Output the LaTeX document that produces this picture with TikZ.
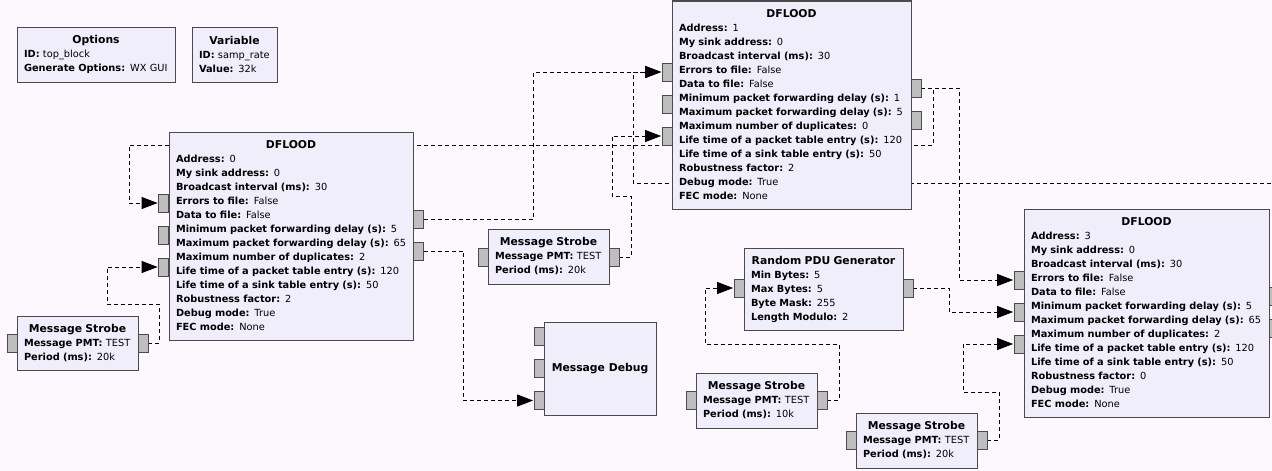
\documentclass[tikz,border=0pt]{standalone}
\usepackage{fontspec}
\setmainfont{DejaVu Sans}
\usetikzlibrary{arrows.meta}
\pgfdeclarelayer{bg}
\pgfsetlayers{bg,main}
\definecolor{canvas}{HTML}{FDF8FD}
\definecolor{blockfill}{HTML}{F1EEFC}
\definecolor{portfill}{HTML}{BEBEBE}
\definecolor{edgecol}{HTML}{4A4A4A}
\newcommand\ttl[1]{\makebox[\linewidth][c]{\fontsize{10.8}{14}\selectfont\bfseries #1}}
\newcommand\prm[2]{\mbox{\textbf{#1} #2}}
\tikzset{
  blk/.style={draw=edgecol, fill=blockfill, line width=1pt, rectangle, inner xsep=7pt, inner ysep=0pt,
    font=\fontsize{9.8}{14}\selectfont, align=left, anchor=center},
  port/.style={draw=edgecol, fill=portfill, line width=0.8pt, minimum width=10pt, minimum height=18pt, inner sep=0pt},
  conn/.style={draw=black, line width=0.9pt, dash pattern=on 4pt off 3pt},
  arr/.style={conn, -{Triangle[length=16pt,width=12pt]}, shorten >=0.5pt},
}
\begin{document}
\begin{tikzpicture}[x=1pt,y=-1pt]
\useasboundingbox (0,0) rectangle (1272,471);

% ---------- blocks ----------
\node[blk, minimum width=158pt, minimum height=55pt, text width=144pt] (opt) at (96,54.5)
  {\ttl{Options}\\ \prm{ID:}{top\_block}\\ \prm{Generate Options:}{WX GUI}};
\node[blk, minimum width=85pt, minimum height=55pt, text width=71pt] (var) at (234.5,54.5)
  {\ttl{Variable}\\ \prm{ID:}{samp\_rate}\\ \prm{Value:}{32k}};

\node[blk, minimum width=244pt, minimum height=208pt, text width=230pt] (d0) at (291,236)
  {\ttl{DFLOOD}\\ \prm{Address:}{0}\\ \prm{My sink address:}{0}\\ \prm{Broadcast interval (ms):}{30}\\
   \prm{Errors to file:}{False}\\ \prm{Data to file:}{False}\\ \prm{Minimum packet forwarding delay (s):}{5}\\
   \prm{Maximum packet forwarding delay (s):}{65}\\ \prm{Maximum number of duplicates:}{2}\\
   \prm{Life time of a packet table entry (s):}{120}\\ \prm{Life time of a sink table entry (s):}{50}\\
   \prm{Robustness factor:}{2}\\ \prm{Debug mode:}{True}\\ \prm{FEC mode:}{None}};

\node[blk, minimum width=239pt, minimum height=208pt, text width=225pt] (d1) at (791.5,105)
  {\ttl{DFLOOD}\\ \prm{Address:}{1}\\ \prm{My sink address:}{0}\\ \prm{Broadcast interval (ms):}{30}\\
   \prm{Errors to file:}{False}\\ \prm{Data to file:}{False}\\ \prm{Minimum packet forwarding delay (s):}{1}\\
   \prm{Maximum packet forwarding delay (s):}{5}\\ \prm{Maximum number of duplicates:}{0}\\
   \prm{Life time of a packet table entry (s):}{120}\\ \prm{Life time of a sink table entry (s):}{50}\\
   \prm{Robustness factor:}{2}\\ \prm{Debug mode:}{True}\\ \prm{FEC mode:}{None}};

\node[blk, minimum width=245pt, minimum height=208pt, text width=231pt] (d3) at (1146.5,313)
  {\ttl{DFLOOD}\\ \prm{Address:}{3}\\ \prm{My sink address:}{0}\\ \prm{Broadcast interval (ms):}{30}\\
   \prm{Errors to file:}{False}\\ \prm{Data to file:}{False}\\ \prm{Minimum packet forwarding delay (s):}{5}\\
   \prm{Maximum packet forwarding delay (s):}{65}\\ \prm{Maximum number of duplicates:}{2}\\
   \prm{Life time of a packet table entry (s):}{120}\\ \prm{Life time of a sink table entry (s):}{50}\\
   \prm{Robustness factor:}{0}\\ \prm{Debug mode:}{True}\\ \prm{FEC mode:}{None}};

\node[blk, minimum width=121pt, minimum height=54pt, text width=107pt] (s0) at (77.5,343)
  {\ttl{Message Strobe}\\ \prm{Message PMT:}{TEST}\\ \prm{Period (ms):}{20k}};
\node[blk, minimum width=121pt, minimum height=55pt, text width=107pt] (s1) at (548.5,256.5)
  {\ttl{Message Strobe}\\ \prm{Message PMT:}{TEST}\\ \prm{Period (ms):}{20k}};
\node[blk, minimum width=121pt, minimum height=55pt, text width=107pt] (s2) at (756.5,400.5)
  {\ttl{Message Strobe}\\ \prm{Message PMT:}{TEST}\\ \prm{Period (ms):}{10k}};
\node[blk, minimum width=121pt, minimum height=55pt, text width=107pt] (s3) at (916.5,440.5)
  {\ttl{Message Strobe}\\ \prm{Message PMT:}{TEST}\\ \prm{Period (ms):}{20k}};

\node[blk, minimum width=159pt, minimum height=82pt, text width=145pt] (pdu) at (823.5,289)
  {\ttl{Random PDU Generator}\\ \prm{Min Bytes:}{5}\\ \prm{Max Bytes:}{5}\\ \prm{Byte Mask:}{255}\\ \prm{Length Modulo:}{2}};

\node[blk, minimum width=112pt, minimum height=93pt, align=center, font=\fontsize{10.8}{14}\selectfont\bfseries] (dbg) at (600,368.5)
  {Message Debug};

% ---------- ports ----------
\node[port] (d0i1) at (163.5,203) {};
\node[port] (d0i2) at (163.5,235) {};
\node[port] (d0i3) at (163.5,267) {};
\node[port] (d0o1) at (418.5,219) {};
\node[port] (d0o2) at (418.5,251) {};

\node[port] (d1i1) at (667,72) {};
\node[port] (d1i2) at (667,104) {};
\node[port] (d1i3) at (667,136) {};
\node[port] (d1o1) at (916,88) {};
\node[port] (d1o2) at (916,120) {};

\node[port] (d3i1) at (1019,280) {};
\node[port] (d3i2) at (1019,312) {};
\node[port] (d3i3) at (1019,344) {};
\node[port] (d3o1) at (1274,296) {};
\node[port] (d3o2) at (1274,328) {};

\node[port] (s0i) at (12,343) {};
\node[port] (s0o) at (143,343) {};
\node[port] (s1i) at (483,257) {};
\node[port] (s1o) at (614,257) {};
\node[port] (s2i) at (691,400) {};
\node[port] (s2o) at (822,400) {};
\node[port] (s3i) at (851,440) {};
\node[port] (s3o) at (982,440) {};
\node[port] (pdui) at (739,288) {};
\node[port] (pduo) at (908,288) {};

\node[port] (dbgi1) at (539,336.5) {};
\node[port] (dbgi2) at (539,368.5) {};
\node[port] (dbgi3) at (539,400.5) {};

% ---------- connectors (behind blocks) ----------
\coordinate (k1) at (129,145);
\coordinate (off) at (1285,183);
\begin{pgfonlayer}{bg}
\fill[canvas] (0,0) rectangle (1272,471);
\draw[arr] (d0o1.east) -- ++(110,0) |- (d1i1.west);
\draw[arr] (d0o2.east) -- ++(40,0) |- (dbgi3.west);
\draw[arr] (d1o1.east) -- ++(12,0) |- (k1) |- (d0i1.west);
\draw[arr] (d1o1.east) -- ++(38,0) |- (d3i1.west);
\draw[arr] (off) -- ++(-652,0) |- (d1i1.west);
\draw[arr] (s1o.east) -- ++(12,0) -- ++(0,-61) -- ++(-19,0) |- (d1i3.west);
\draw[arr] (s0o.east) -- ++(11,0) -- ++(0,-39) -- ++(-52,0) |- (d0i3.west);
\draw[arr] (pduo.east) -- ++(36,0) |- (d3i2.west);
\draw[arr] (s2o.east) -- ++(12,0) -- ++(0,-56) -- ++(-134,0) |- (pdui.west);
\draw[arr] (s3o.east) -- ++(12,0) -- ++(0,-48) -- ++(-36,0) |- (d3i3.west);
\end{pgfonlayer}
\end{tikzpicture}
\end{document}
